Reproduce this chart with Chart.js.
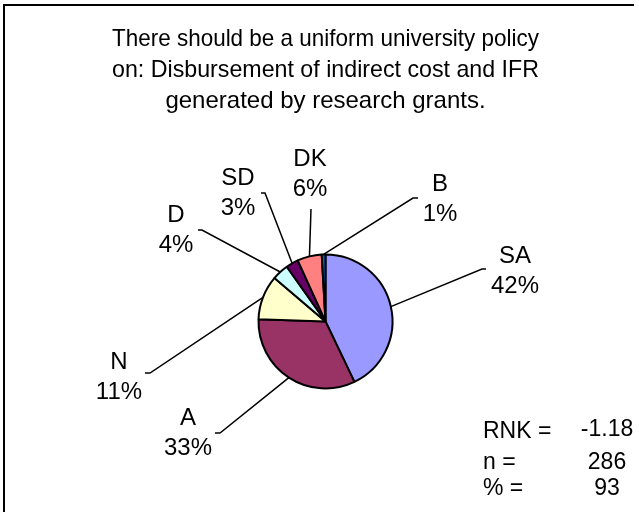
<!DOCTYPE html>
<html>
<head>
<meta charset="utf-8">
<script src="https://cdn.jsdelivr.net/npm/chart.js@4.4.0/dist/chart.umd.min.js"></script>
<style>
  html, body { margin: 0; padding: 0; background: #fff; }
  canvas { display: block; }
</style>
</head>
<body>
<canvas id="pie" width="639" height="512"></canvas>
<script>
// data
const titleLines = [
  "There should be a uniform university policy",
  "on: Disbursement of indirect cost and IFR",
  "generated by research grants.",
];
const categories = ["SA", "A", "N", "D", "SD", "DK", "B"];
const shares = [42.9, 32.6, 10.7, 4.0, 3.0, 5.9, 0.9];
const pctLabels = ["42%", "33%", "11%", "4%", "3%", "6%", "1%"];
const statNames = ["RNK =", "n =", "% ="];
const statValues = ["-1.18", "286", "93"];

const sliceColors = ["#9999FF", "#993366", "#FFFFCC", "#CCFFFF", "#660066", "#FF8080", "#0066CC"];
const FONT = '"Liberation Sans", Arial, sans-serif';

// where the dragged labels sit: [text x, first line y, elbow x, elbow y, tick end x]
const labelSpots = [
  [515, 256, 482, 269, 486],
  [188, 418, 220, 433, 215],
  [119, 362, 150, 373, 145],
  [176, 215, 202, 230, 198],
  [238, 178, 265, 193, 261],
  [310, 159, 311, 209, 311],
  [440, 184, 413, 198, 418],
];

// thin frame, only left and top edges show
const frame = {
  id: "frame",
  beforeDraw(chart) {
    const ctx = chart.ctx;
    ctx.save();
    ctx.strokeStyle = "#000";
    ctx.lineWidth = 2;
    ctx.beginPath();
    ctx.moveTo(4, 512);
    ctx.lineTo(4, 5);
    ctx.lineTo(634, 5);
    ctx.stroke();
    ctx.restore();
  },
};

// leader lines + two-line labels + stats box
const leaders = {
  id: "leaders",
  afterDatasetsDraw(chart) {
    const ctx = chart.ctx;
    const arcs = chart.getDatasetMeta(0).data;
    ctx.save();
    ctx.strokeStyle = "#000";
    ctx.fillStyle = "#000";
    ctx.lineWidth = 1.5;
    ctx.font = "24px " + FONT;
    ctx.textAlign = "center";
    ctx.textBaseline = "middle";
    arcs.forEach((arc, i) => {
      const p = arc.getProps(["x", "y", "startAngle", "endAngle", "outerRadius"], true);
      const mid = (p.startAngle + p.endAngle) / 2;
      const sx = p.x + Math.cos(mid) * p.outerRadius;
      const sy = p.y + Math.sin(mid) * p.outerRadius;
      const [tx, ty, ex, ey, kx] = labelSpots[i];
      ctx.beginPath();
      ctx.moveTo(sx, sy);
      ctx.lineTo(ex, ey);
      ctx.lineTo(kx, ey);
      ctx.stroke();
      ctx.fillText(categories[i], tx, ty);
      ctx.fillText(pctLabels[i], tx, ty + 30.5);
    });

    ctx.font = "23px " + FONT;
    const rows = [432, 463, 489];
    statNames.forEach((s, i) => {
      ctx.textAlign = "left";
      ctx.fillText(s, 483, rows[i]);
      ctx.textAlign = "center";
      ctx.fillText(statValues[i], 607, i === 0 ? rows[i] - 2 : rows[i]);
    });
    ctx.restore();
  },
};

new Chart(document.getElementById("pie"), {
  type: "pie",
  data: {
    labels: categories,
    datasets: [
      {
        data: shares,
        backgroundColor: sliceColors,
        borderColor: "#000",
        borderWidth: 2,
        radius: 67,
      },
    ],
  },
  options: {
    responsive: false,
    animation: false,
    layout: { padding: { left: 112, right: 100, top: 0, bottom: 50 } },
    plugins: {
      legend: { display: false },
      tooltip: { enabled: false },
      title: {
        display: true,
        text: titleLines,
        color: "#000",
        font: { family: FONT, size: 24, weight: "normal", lineHeight: 1.29 },
        padding: { top: 24, bottom: 64 },
      },
    },
  },
  plugins: [frame, leaders],
});
</script>
</body>
</html>
